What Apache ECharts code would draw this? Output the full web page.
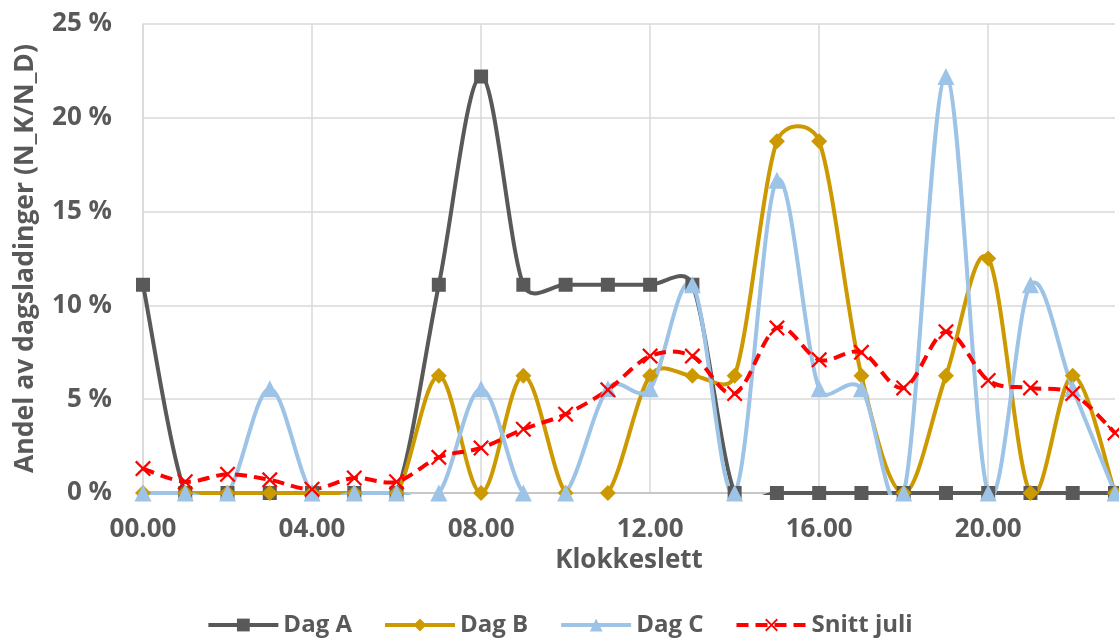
<!DOCTYPE html>
<html>
<head>
<meta charset="utf-8">
<script src="https://cdn.jsdelivr.net/npm/echarts@6/dist/echarts.min.js"></script>
<style>
html,body{margin:0;padding:0;background:#fff;}
#chart{width:1119px;height:639px;}
</style>
</head>
<body>
<div id="chart"></div>
<script>
var hours = ['00.00','01.00','02.00','03.00','04.00','05.00','06.00','07.00','08.00','09.00','10.00','11.00',
             '12.00','13.00','14.00','15.00','16.00','17.00','18.00','19.00','20.00','21.00','22.00','23.00'];
var dagA = [11.1,0,0,0,0,0,0,11.1,22.2,11.1,11.1,11.1,11.1,11.1,0,0,0,0,0,0,0,0,0,0];
var dagB = [0,0,0,0,0,0,0,6.25,0,6.25,0,0,6.25,6.25,6.25,18.75,18.75,6.25,0,6.25,12.5,0,6.25,0];
var dagC = [0,0,0,5.56,0,0,0,0,5.56,0,0,5.56,5.56,11.1,0,16.67,5.56,5.56,0,22.2,0,11.1,5.56,0];
var snitt = [1.3,0.6,1.0,0.7,0.2,0.8,0.6,1.9,2.4,3.4,4.2,5.5,7.3,7.3,5.3,8.8,7.1,7.5,5.6,8.6,6.0,5.6,5.3,3.2];
var yTicks = [0,5,10,15,20,25];

var FONT = "'Open Sans', 'Noto Sans', sans-serif";
var TXT = '#595959';
var xPath = 'path://M1,0 L5,4 L9,0 L10,1 L6,5 L10,9 L9,10 L5,6 L1,10 L0,9 L4,5 L0,1 Z';

var seriesDefs = [
  {name:'Dag A', data:dagA, color:'#595959', symbol:'rect', size:14, dash:'solid'},
  {name:'Dag B', data:dagB, color:'#CC9900', symbol:'diamond', size:16, dash:'solid'},
  {name:'Dag C', data:dagC, color:'#9DC3E6', symbol:'triangle', size:17, dash:'solid'},
  {name:'Snitt juli', data:snitt, color:'#FF0000', symbol:xPath, size:16, dash:[12,7]}
];

// Excel-style smoothed Bezier path, built from data points mapped by the axes
function smoothPath(pts){
  function dist(a,b){var dx=b[0]-a[0],dy=b[1]-a[1];return Math.sqrt(dx*dx+dy*dy);}
  var n = pts.length;
  var d = 'M' + pts[0][0] + ' ' + pts[0][1];
  for (var i=0;i<n-1;i++){
    var p0 = pts[i>0?i-1:i], p1 = pts[i], p2 = pts[i+1], p3 = pts[i+2<n?i+2:i+1];
    var d12 = dist(p1,p2), d02 = dist(p0,p2), d13 = dist(p1,p3);
    var a1 = Math.min(d02/6, d12/2), a2 = Math.min(d13/6, d12/2);
    var c1 = d02>0 ? [p1[0]+(p2[0]-p0[0])/d02*a1, p1[1]+(p2[1]-p0[1])/d02*a1] : p1;
    var c2 = d13>0 ? [p2[0]-(p3[0]-p1[0])/d13*a2, p2[1]-(p3[1]-p1[1])/d13*a2] : p2;
    d += ' C' + c1[0] + ' ' + c1[1] + ' ' + c2[0] + ' ' + c2[1] + ' ' + p2[0] + ' ' + p2[1];
  }
  return d;
}

var series = [];
seriesDefs.forEach(function(s){
  series.push({
    name:s.name+' kurve', type:'custom', silent:true, legendHoverLink:false,
    data:[[0,0]],
    renderItem:(function(vals,color,dash){
      return function(params, api){
        var pts = vals.map(function(v,i){return api.coord([i,v]);});
        var cs = params.coordSys;
        return {
          type:'group',
          clipPath:{type:'rect', shape:{x:cs.x-10, y:cs.y-10, width:cs.width+20, height:cs.height+12}},
          children:[{type:'path', shape:{pathData:smoothPath(pts)},
                style:{fill:null, stroke:color, lineWidth:4, lineDash:dash==='solid'?null:dash, lineCap:'butt', lineJoin:'round'}}]
        };
      };
    })(s.data,s.color,s.dash)
  });
  series.push({
    name:s.name, type:'line', data:s.data, symbol:s.symbol, symbolSize:s.size, showAllSymbol:true,
    lineStyle:{color:s.color, width:4, opacity:0, type:s.dash},
    itemStyle:{color:s.color, borderWidth:0}
  });
});

var chart = echarts.init(document.getElementById('chart'), null, {renderer:'canvas'});
chart.setOption({
  animation:false,
  backgroundColor:'#fff',
  textStyle:{fontFamily:FONT},
  grid:{left:143,right:4,top:24,bottom:146,containLabel:false},
  legend:{
    top:608,left:'center',
    itemWidth:70,itemHeight:16,itemGap:31,
    textStyle:{fontFamily:FONT,fontWeight:'bold',fontSize:24,color:TXT},
    data:seriesDefs.map(function(s){
      return {name:s.name, lineStyle:{color:s.color,width:4,opacity:1,type:s.dash}, itemStyle:{color:s.color}};
    })
  },
  xAxis:{
    type:'category',
    data:hours,
    boundaryGap:false,
    name:'Klokkeslett',
    nameLocation:'middle',
    nameGap:45,
    nameTextStyle:{fontFamily:FONT,fontWeight:'bold',fontSize:26,color:TXT},
    axisLine:{show:true,lineStyle:{color:'#bfbfbf',width:1.5}},
    axisTick:{show:false},
    axisLabel:{interval:3,fontFamily:FONT,fontWeight:'bold',fontSize:26,color:TXT,margin:24},
    splitLine:{show:true,interval:3,lineStyle:{color:'#d9d9d9',width:1.5}}
  },
  yAxis:{
    type:'value',
    min:yTicks[0],max:yTicks[yTicks.length-1],interval:5,
    name:'Andel av dagsladinger (N_K/N_D)',
    nameLocation:'middle',
    nameGap:104,
    nameTextStyle:{fontFamily:FONT,fontWeight:'bold',fontSize:26.5,color:TXT},
    axisLine:{show:true,lineStyle:{color:'#d9d9d9',width:1.5}},
    axisTick:{show:false},
    axisLabel:{formatter:function(v){return v+' %';},fontFamily:FONT,fontWeight:'bold',fontSize:26,color:TXT,margin:31},
    splitLine:{show:true,lineStyle:{color:'#d9d9d9',width:1.5}}
  },
  series:series
});
</script>
</body>
</html>
